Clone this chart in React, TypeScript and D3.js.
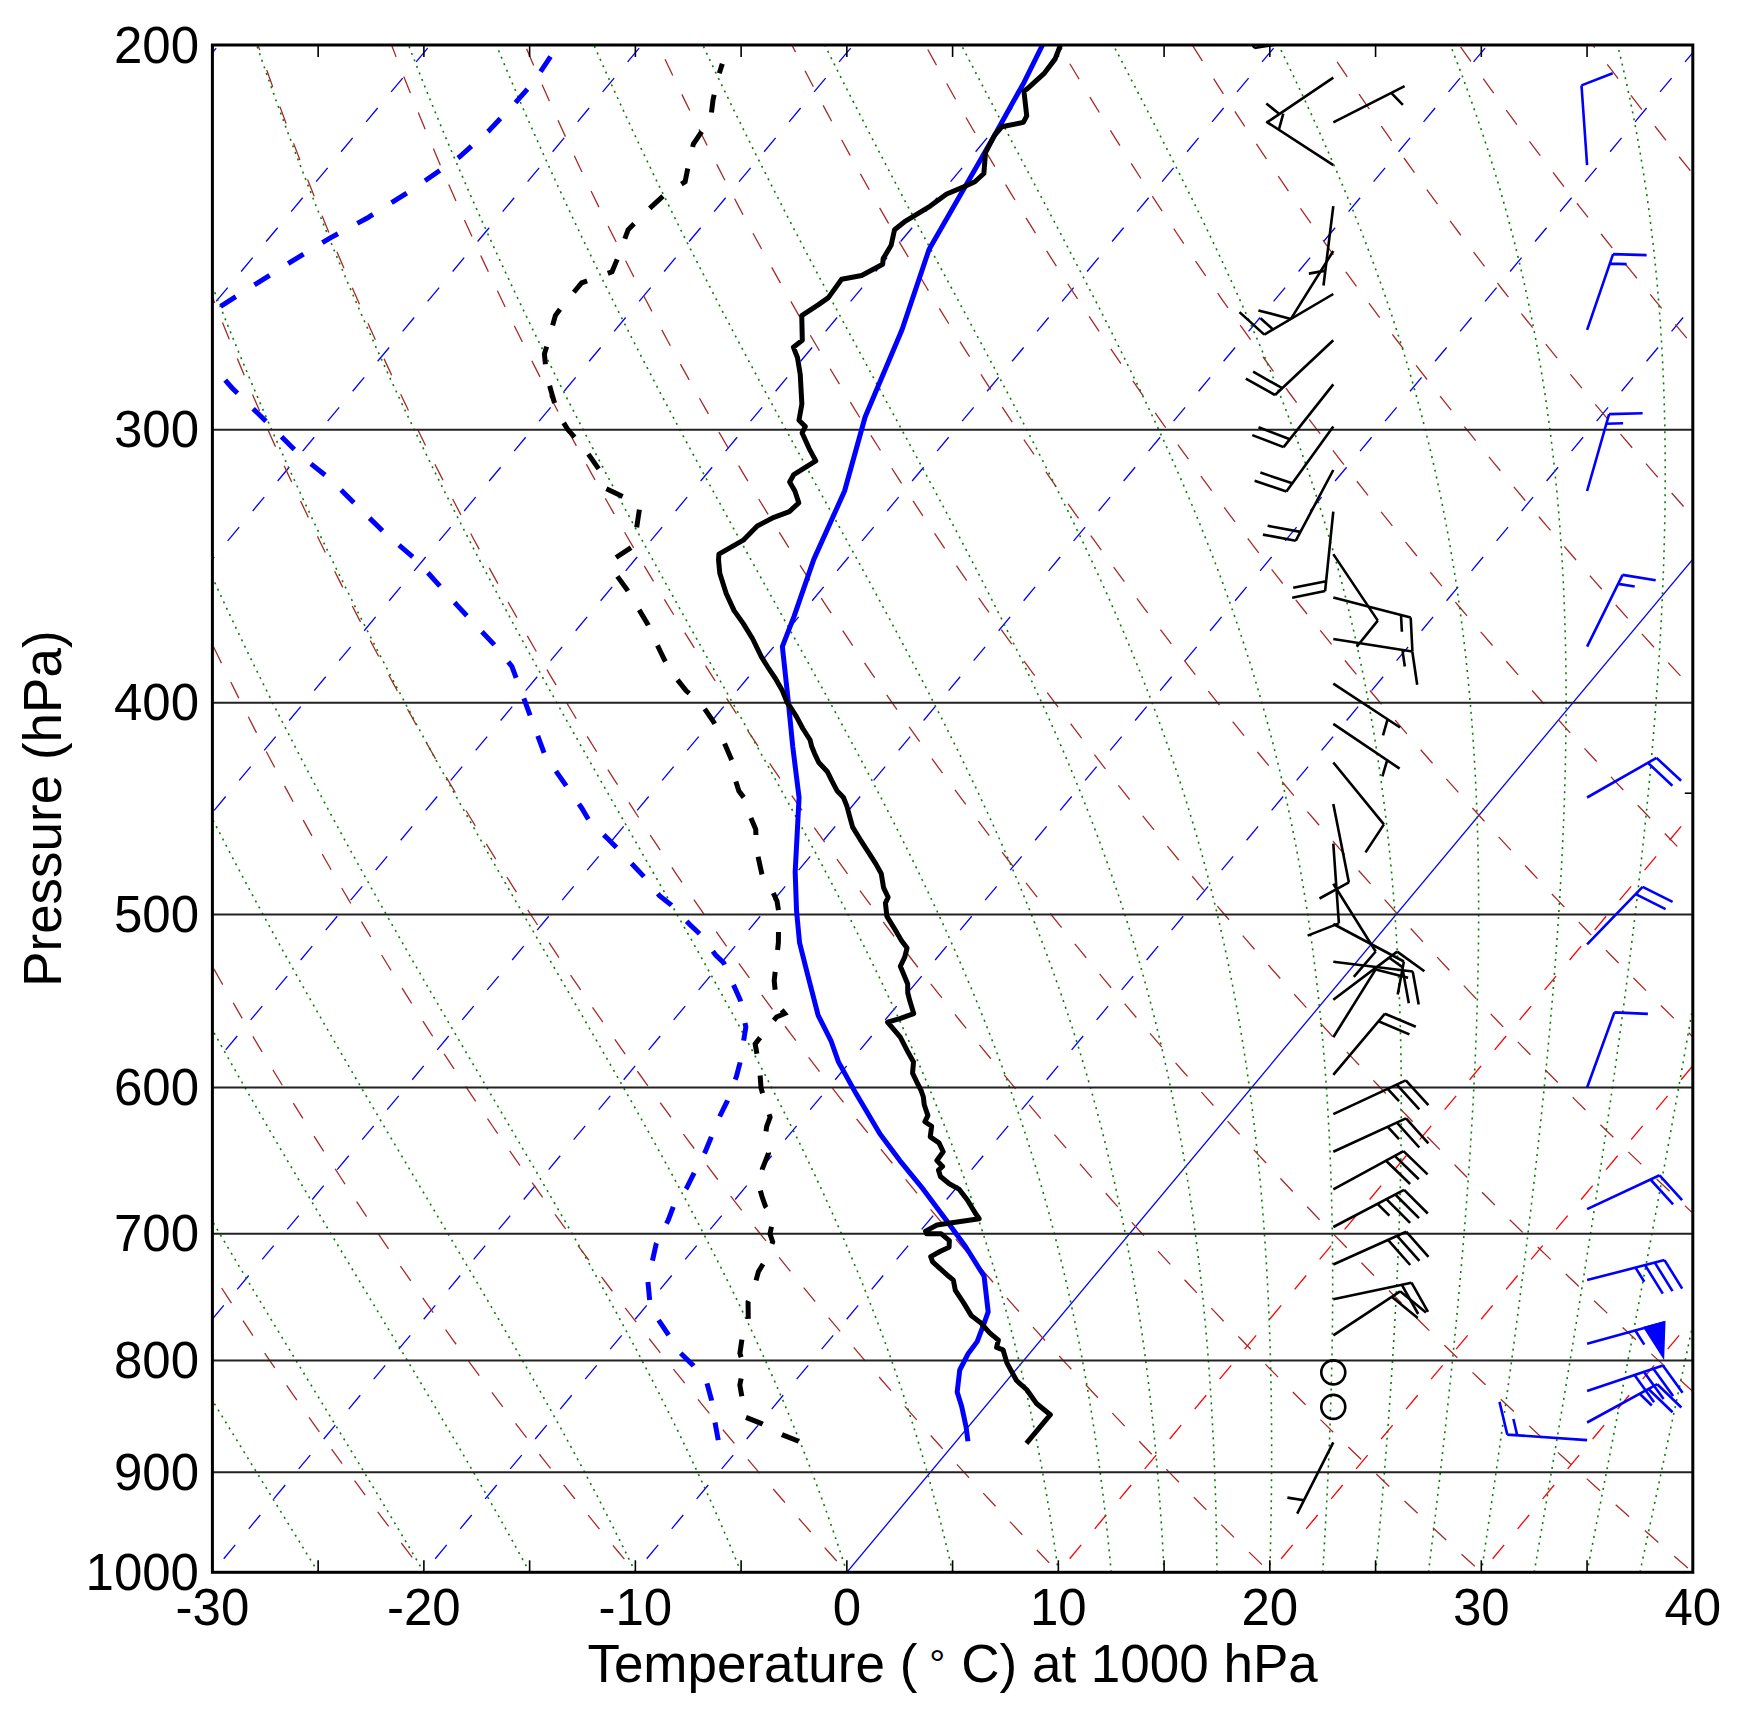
import React from 'react';
import * as d3 from 'd3';

// observed temperature (black solid), hPa / °C
const tempP = [873, 847, 837, 825, 817, 802, 791, 789, 783, 777, 769, 763, 753, 743, 735, 731, 721, 717, 713, 710, 705, 700, 700, 698, 693.5, 692, 689, 685, 675.5, 668, 664, 659, 654.5, 652, 648, 642, 636, 632, 625, 622, 618, 611, 606, 602, 597, 591, 584, 578, 569, 560, 558, 555, 548, 543, 538, 528, 523, 518, 514, 508, 501, 494, 491, 486, 479, 474, 469, 462, 456, 451, 446, 442, 439, 434, 430, 426, 422, 419, 416, 411, 406, 402, 400, 395, 390, 386, 381, 374, 368, 363, 356.5, 349, 344, 342, 337, 332, 329, 327, 324, 320, 317, 314.5, 310, 306, 301, 299, 297, 292, 283, 278, 275, 273, 266, 263, 261, 256, 255, 252, 250.5, 247, 243, 241, 237, 234, 232, 231, 229, 224, 220, 218, 217, 215.5, 210, 209.5, 206, 203, 200];
const tempT = [3.4, 3.4, 2.3, 1.3, 0.45, -0.7, -1.4, -1.8, -2.0, -2.7, -3.5, -4.25, -5.1, -6.0, -6.5, -7.0, -8.2, -8.5, -8.25, -8.0, -8.25, -8.9, -9.6, -9.75, -9.45, -8.9, -7.7, -8.1, -9.0, -9.8, -10.5, -11.2, -11.55, -11.5, -12.0, -12.05, -12.6, -13.25, -13.6, -14.1, -14.2, -14.8, -15.15, -15.5, -16.0, -16.6, -17.0, -17.65, -18.6, -19.8, -19.35, -18.9, -19.55, -20.0, -20.35, -21.4, -21.55, -21.8, -22.35, -23.1, -24.0, -24.6, -24.7, -25.3, -25.95, -26.6, -27.3, -28.3, -29.15, -29.7, -30.25, -30.75, -31.3, -32.0, -32.55, -33.3, -33.85, -34.25, -34.6, -35.4, -36.15, -36.8, -37.15, -37.85, -38.65, -39.35, -40.2, -41.3, -42.35, -43.3, -44.35, -45.45, -46.05, -46.25, -45.65, -45.55, -45.1, -44.6, -44.5, -45.15, -45.75, -45.85, -45.35, -46.15, -47.1, -47.2, -47.75, -48.25, -49.5, -50.3, -50.9, -50.75, -51.75, -51.4, -51.2, -51.3, -50.5, -49.95, -50.15, -50.3, -50.75, -50.6, -50.0, -49.7, -49.1, -48.85, -48.75, -49.5, -49.75, -49.75, -48.9, -49.0, -50.1, -50.05, -49.85, -49.9, -50.2];

// observed dewpoint (black dashed)
const dewP = [871, 865, 855, 849, 831, 821, 804, 794, 775, 767, 752, 743, 728.5, 718, 706, 700, 687.5, 680, 673, 663, 654.5, 643, 634, 625, 619, 611, 600, 589, 573, 557, 555, 549, 536, 515, 498, 493, 485, 480, 467, 457, 451, 443, 439, 431, 425, 415, 408, 400, 395, 388, 382, 374, 368.5, 360, 355, 348, 344, 339, 326, 323, 319, 314, 305, 300, 294.5, 289, 283, 277, 273, 266, 263, 257, 254, 250, 243, 237, 234, 231, 227, 222, 216, 212, 207.5, 204];
const dewT = [-7.45, -8.5, -9.9, -10.95, -11.9, -12.45, -13.05, -13.7, -14.45, -14.6, -15.35, -15.55, -16.05, -16.2, -16.55, -17.0, -17.5, -18.3, -18.85, -19.6, -19.9, -20.25, -20.95, -21.4, -21.6, -22.3, -23.2, -23.95, -25.2, -25.25, -25.0, -25.8, -26.8, -28.1, -29.35, -29.8, -30.75, -31.5, -32.8, -33.65, -34.4, -35.3, -35.95, -36.9, -37.5, -38.85, -39.9, -41.25, -42.4, -43.7, -44.7, -45.95, -46.8, -48.3, -49.2, -50.6, -51.05, -50.6, -51.8, -52.6, -54.25, -55.0, -57.0, -58.3, -59.5, -60.45, -61.5, -62.4, -62.75, -63.4, -63.45, -63.45, -62.45, -62.75, -63.35, -63.15, -63.0, -62.55, -63.05, -63.65, -63.85, -64.45, -65.05, -65.45];

// model temperature (blue solid)
const modelTP = [871, 858, 840, 827, 808, 794, 784, 769, 760, 732, 710, 690, 668, 648, 630, 604, 584, 571, 556, 530, 515, 498, 478, 442, 419, 399, 377, 365, 344, 320, 296, 270, 248, 220, 208, 200];
const modelTT = [0.55, -0.1, -1.1, -1.9, -2.65, -2.9, -2.95, -3.35, -3.6, -5.2, -7.2, -9.2, -11.5, -13.75, -15.75, -18.45, -20.55, -21.75, -23.35, -25.7, -27.1, -28.5, -30.1, -32.85, -35.15, -37.2, -39.6, -40.25, -41.55, -42.8, -44.75, -46.45, -48.35, -49.75, -50.45, -51.05];

// model dewpoint (blue dashed)
const modelDP = [870, 853, 834, 819, 804, 793, 777, 765, 751, 735, 720, 707, 690, 680, 667, 656, 642, 632, 619, 609, 593, 585, 563, 547, 526, 522, 511, 505, 495, 490, 482, 466, 462, 453, 447, 423, 398, 385, 376, 361, 344, 335, 325.5, 316, 308, 299, 287, 280.5, 273, 265, 258, 251.5, 245, 240, 233, 225, 219, 213, 208, 200];
const modelDT = [-11.3, -12.2, -13.2, -14.1, -15.45, -16.6, -17.95, -19.0, -20.05, -20.95, -21.5, -22.0, -22.35, -22.65, -22.75, -23.0, -23.3, -23.6, -24.0, -24.25, -24.8, -25.15, -26.3, -27.65, -29.9, -30.55, -32.05, -33.05, -34.65, -35.6, -36.8, -39.5, -40.2, -41.85, -42.7, -46.5, -49.8, -51.6, -53.35, -56.6, -60.35, -62.75, -65.15, -67.6, -70.0, -72.45, -75.85, -77.6, -84, -79.8, -78.9, -78.05, -77.1, -76.15, -75.15, -74.2, -73.85, -73.7, -73.65, -73.95];

// observed winds (black barbs): pressure, staff bearing (deg), speed (kt)
const obsWindP = [198, 207, 217, 227, 237, 248.5, 260, 273, 286, 299, 313, 327, 342, 358, 374, 392, 409, 426, 445, 464, 484, 505, 525.5, 547, 569, 592, 617, 642, 668, 695, 723, 750, 779, 810, 840, 872];
const obsWindDir = [261, 236, 63, 303, 187, 212, 239.5, 226.8, 218.4, 215.9, 207.9, 185.9, 146.2, 104.5, 99, 123.3, 124, 140.7, 168.7, 176, 148, 118, 97, 53, 32, 40.2, 65.1, 65.4, 61.4, 62.3, 65.8, 78, 56.6, 0, 0, 206.8];
const obsWindSpd = [10, 5, 5, 5, 5, 10, 15, 20, 20, 20, 20, 20, 10, 15, 15, 5, 5, 10, 10, 10, 10, 10, 20, 15, 10, 20, 25, 25, 30, 35, 30, 20, 20, 0, 0, 5];

// model winds (blue barbs)
const modelWindP = [227, 270, 320, 377, 442, 516, 600, 682, 735, 786, 826, 854, 870];
const modelWindDir = [356, 19, 16, 26.4, 60.3, 44, 20, 65, 75.5, 74.6, 71.5, 61.4, 274];
const modelWindSpd = [10, 15, 15, 15, 20, 20, 10, 20, 35, 55, 40, 25, 15];

// background lines
const isotherms = d3.range(-120, 41, 10);
const dryAdiabats = d3.range(-30, 201, 10);
const moistAdiabats = [-30, -25, -20, -15, -10, -5, 0, 5, 10, 12.5, 15, 17.5, 20, 22.5, 25, 27.5, 30, 32.5, 35, 37.5, 40, 42.5, 45, 47.5, 50];
const pressureLines = [300, 400, 500, 600, 700, 800, 900];
const pressureTicks = [200, 300, 400, 500, 600, 700, 800, 900, 1000];
const tempTicks = d3.range(-30, 41, 5);
const tempLabels = d3.range(-30, 41, 10);

const W = 1744;
const H = 1720;
const SKEW = 0.835;
const FONT = '"Liberation Sans", Arial, Helvetica, sans-serif';

const x = d3.scaleLinear().domain([-30, 40]).range([212.4, 1692.8]);
const y = d3.scaleLog().domain([1000, 200]).range([1572.3, 45]);
const y0 = y(1000);
const sx = (t: number, p: number) => x(t) + SKEW * (y0 - y(p));

const line = d3.line<[number, number]>();
const pts = (ps: number[], ts: number[]) => ps.map((p, i) => [sx(ts[i], p), y(p)] as [number, number]);

const logPs = d3.range(0, 121).map((i) => 1050 * Math.pow(195 / 1050, i / 120));

// moist adiabat integration
const Rd = 287.04, Cp = 1005.7, Lv = 2.501e6, EPS = 0.622;
function es(tk: number) {
  const tc = tk - 273.15;
  return 6.112 * Math.exp((17.67 * tc) / (tc + 243.5));
}
function dTdp(tk: number, p: number) {
  const e = es(tk);
  const rs = (EPS * e) / (p - e);
  return (Rd * tk + Lv * rs) / (p * (Cp + (Lv * Lv * rs * EPS) / (Rd * tk * tk)));
}
function moistPath(tw: number) {
  const out: [number, number][] = [];
  let tk = tw + 273.15;
  let p = 1000;
  const dp = -2;
  out.push([sx(tk - 273.15, p), y(p)]);
  while (p > 196) {
    const k1 = dTdp(tk, p);
    const k2 = dTdp(tk + k1 * dp, p + dp);
    tk += 0.5 * (k1 + k2) * dp;
    p += dp;
    out.push([sx(tk - 273.15, p), y(p)]);
  }
  return line(out) || '';
}

function barb(bx: number, by: number, bearing: number, speed: number, color: string, key: string) {
  const L = 80;
  const BH = 0.4 * L, BW = 0.25 * L, S = 0.125 * L;
  const th = (bearing * Math.PI) / 180;
  const ux = Math.sin(th), uy = -Math.cos(th);
  const px = -uy, py = ux;
  const P = (s: number, h = 0) => `${(bx + s * ux + h * px).toFixed(1)},${(by + s * uy + h * py).toFixed(1)}`;
  const spd = 5 * Math.round(speed / 5);
  if (spd < 5) {
    return <circle key={key} cx={bx} cy={by} r={0.15 * L} fill="none" stroke={color} strokeWidth={2.6} />;
  }
  const flags = Math.floor(spd / 50);
  const rem = spd - 50 * flags;
  const full = Math.floor(rem / 10);
  const half = rem - 10 * full >= 5;
  let d = `M${P(0)}L${P(L)}`;
  const polys: string[] = [];
  let off = L;
  for (let i = 0; i < flags; i++) {
    if (off !== L) off += S / 2;
    polys.push(`M${P(off)}L${P(off - BW / 2, BH)}L${P(off - BW)}Z`);
    off -= BW + S;
  }
  for (let i = 0; i < full; i++) {
    d += `M${P(off)}L${P(off + BW / 2, BH)}`;
    off -= S;
  }
  if (half) {
    if (off === L) off -= 1.5 * S;
    d += `M${P(off)}L${P(off + BW / 4, BH / 2)}`;
  }
  return (
    <g key={key}>
      <path d={d} fill="none" stroke={color} strokeWidth={2.6} strokeLinejoin="miter" />
      {polys.map((pp, i) => (
        <path key={i} d={pp} fill={color} stroke={color} strokeWidth={2.6} />
      ))}
    </g>
  );
}

export default function App() {
  const left = x(-30), right = x(40), top = y(200), bottom = y(1000);
  const obsX = x(23);
  const modX = x(35);

  return (
    <svg width={W} height={H} viewBox={`0 0 ${W} ${H}`} style={{ position: 'absolute', left: 0, top: 0, background: '#fff' }}>
      <defs>
        <clipPath id="plotClip">
          <rect x={left} y={top} width={right - left} height={bottom - top} />
        </clipPath>
      </defs>
      <rect x={0} y={0} width={W} height={H} fill="#fff" />

      <g clipPath="url(#plotClip)">
        {/* isotherms */}
        {isotherms.map((t) => (
          <line
            key={'iso' + t}
            x1={sx(t, 1050)}
            y1={y(1050)}
            x2={sx(t, 190)}
            y2={y(190)}
            stroke={t <= 0 ? '#0000ff' : '#ff0000'}
            strokeWidth={1.3}
            strokeDasharray={t === 0 ? undefined : '18 21'}
          />
        ))}
        {/* dry adiabats */}
        {dryAdiabats.map((th) => {
          const tk = th + 273.15;
          const d = line(logPs.map((p) => [sx(tk * Math.pow(p / 1000, 0.286) - 273.15, p), y(p)] as [number, number]));
          return <path key={'dry' + th} d={d || ''} fill="none" stroke="#a52a2a" strokeWidth={1.3} strokeDasharray="18 21" />;
        })}
        {/* moist adiabats */}
        {moistAdiabats.map((tw) => (
          <path key={'moist' + tw} d={moistPath(tw)} fill="none" stroke="#008000" strokeWidth={1.6} strokeDasharray="2 5" />
        ))}
        {/* pressure lines */}
        {pressureLines.map((p) => (
          <line key={'pl' + p} x1={left} x2={right} y1={y(p)} y2={y(p)} stroke="#222" strokeWidth={2} />
        ))}

        {/* profiles */}
        <path d={line(pts(modelDP, modelDT)) || ''} fill="none" stroke="#0000ff" strokeWidth={5} strokeDasharray="18 22" />
        <path d={line(pts(dewP, dewT)) || ''} fill="none" stroke="#000" strokeWidth={5} strokeDasharray="18 22" />
        <path d={line(pts(modelTP, modelTT)) || ''} fill="none" stroke="#0000ff" strokeWidth={5} strokeLinejoin="round" />
        <path d={line(pts(tempP, tempT)) || ''} fill="none" stroke="#000" strokeWidth={5} strokeLinejoin="round" />

        {/* wind barbs */}
        {obsWindP.map((p, i) => barb(obsX, y(p), obsWindDir[i], obsWindSpd[i], '#000', 'ob' + i))}
        {modelWindP.map((p, i) => barb(modX, y(p), modelWindDir[i], modelWindSpd[i], '#0000ff', 'mb' + i))}
      </g>

      {/* ticks */}
      {tempTicks.map((t) => (
        <g key={'tk' + t}>
          <line x1={x(t)} x2={x(t)} y1={bottom} y2={bottom - 12} stroke="#000" strokeWidth={1.6} />
          <line x1={x(t)} x2={x(t)} y1={top} y2={top + 12} stroke="#000" strokeWidth={1.6} />
        </g>
      ))}
      <line x1={right} x2={right - 8} y1={y(440)} y2={y(440)} stroke="#000" strokeWidth={1.6} />

      {/* frame */}
      <rect x={left} y={top} width={right - left} height={bottom - top} fill="none" stroke="#000" strokeWidth={3} />

      {/* tick labels */}
      {tempLabels.map((t) => (
        <text key={'tl' + t} x={x(t)} y={1625} textAnchor="middle" fontFamily={FONT} fontSize={51} fill="#000">
          {t < 0 ? '-' + Math.abs(t) : String(t)}
        </text>
      ))}
      {pressureTicks.map((p) => (
        <text key={'pt' + p} x={199} y={y(p) + 17.5} textAnchor="end" fontFamily={FONT} fontSize={51} fill="#000">
          {p}
        </text>
      ))}

      {/* axis labels */}
      <text x={(left + right) / 2} y={1682} textAnchor="middle" fontFamily={FONT} fontSize={53} fill="#000">
        Temperature (
        <tspan dx={12} dy={-4} fontSize={40}>°</tspan>
        <tspan dx={16} dy={4}>C) at 1000 hPa</tspan>
      </text>
      <text
        transform={`translate(61, ${(top + bottom) / 2}) rotate(-90)`}
        textAnchor="middle"
        fontFamily={FONT}
        fontSize={53}
        fill="#000"
      >
        Pressure (hPa)
      </text>
    </svg>
  );
}
